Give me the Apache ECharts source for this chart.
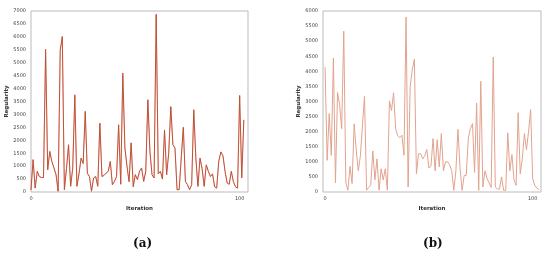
<!DOCTYPE html>
<html>
<head>
<meta charset="utf-8">
<script src="https://cdn.jsdelivr.net/npm/echarts@6/dist/echarts.min.js"></script>
<style>
  html, body { margin: 0; padding: 0; background: #fff; }
  #main { width: 550px; height: 257px; }
</style>
</head>
<body>
<div id="main"></div>
<script>
// 左图 (a) - 两条几乎重合的曲线
const regularityA1 = [80, 1250, 150, 800, 600, 560, 560, 5520, 860, 1570,
    1180, 930, 670, 30, 5490, 6010, 90, 900, 1830, 220,
    930, 3760, 220, 700, 1310, 1100, 3115, 730, 600, 30,
    540, 600, 220, 2660, 600, 640, 730, 800, 1180, 280,
    410, 600, 2600, 300, 4600, 1700, 1000, 400, 1900, 200,
    670, 480, 800, 930, 410, 800, 3565, 1570, 670, 540,
    6870, 700, 800, 500, 2400, 670, 1500, 3300, 1830, 1700,
    90, 90, 1310, 2500, 410, 280, 90, 280, 3180, 1310,
    220, 1310, 900, 220, 1050, 800, 600, 700, 200, 150,
    1200, 1550, 1400, 800, 350, 300, 800, 400, 200, 150,
    3730, 550, 2790];
const regularityA2 = [80, 1250, 150, 800, 600, 560, 560, 5400, 860, 1570,
    1180, 930, 670, 30, 5450, 6010, 90, 900, 1800, 220,
    930, 3700, 220, 700, 1310, 1100, 3115, 730, 600, 30,
    540, 600, 220, 2660, 600, 640, 730, 800, 1180, 280,
    410, 600, 2600, 300, 4500, 1700, 1000, 400, 1900, 200,
    670, 480, 800, 930, 410, 800, 3565, 1570, 670, 540,
    6870, 700, 800, 500, 2400, 670, 1500, 3300, 1830, 1700,
    90, 90, 1310, 2500, 410, 280, 90, 280, 3180, 1310,
    220, 1310, 900, 220, 1050, 800, 600, 700, 200, 150,
    1200, 1550, 1400, 800, 350, 300, 800, 400, 200, 150,
    3730, 550, 2790];

// 右图 (b)
const regularityB = [4140, 1050, 2600, 1215, 4440, 300, 3300, 2900, 2100, 5330,
    300, 60, 850, 280, 2260, 1400, 700, 1200, 2200, 3170,
    60, 150, 220, 1360, 400, 1100, 60, 770, 400, 770,
    60, 3020, 2700, 3290, 2100, 1860, 1800, 1880, 1215, 5800,
    165, 3500, 4055, 4400, 600, 1270, 1270, 1100, 1200, 1410,
    800, 850, 1770, 700, 1735, 830, 1935, 700, 1000, 1000,
    900, 700, 55, 700, 2080, 800, 55, 550, 550, 1790,
    2100, 2265, 650, 2950, 55, 3670, 165, 700, 450, 300,
    150, 4475, 165, 100, 100, 500, 55, 55, 1960, 700,
    1240, 400, 220, 2630, 600, 1100, 1935, 1400, 2000, 2730,
    440, 220, 130, 77];

const xTickLabels = [0, 100];

function toPoints(vals) {
    return vals.map((v, i) => [i, v]);
}

const labelFont = { fontFamily: 'DejaVu Sans', fontSize: 5, color: '#444' };
const nameFont = { fontFamily: 'DejaVu Sans', fontSize: 5.5, fontWeight: 'bold', color: '#333' };

function xAxisFor(gridIndex, min) {
    return {
        gridIndex: gridIndex,
        type: 'value',
        min: min,
        max: 104,
        name: 'Iteration',
        nameLocation: 'middle',
        nameGap: 6,
        nameTextStyle: nameFont,
        axisLine: { show: false },
        axisTick: { show: false },
        splitLine: { show: false },
        axisLabel: Object.assign({ customValues: xTickLabels, margin: 4 }, labelFont)
    };
}

function yAxisFor(gridIndex, max) {
    return {
        gridIndex: gridIndex,
        type: 'value',
        min: 0,
        max: max,
        interval: 500,
        name: 'Regularity',
        nameLocation: 'middle',
        nameGap: 19,
        nameTextStyle: nameFont,
        axisLine: { show: false },
        axisTick: { show: false },
        splitLine: { show: false },
        axisLabel: Object.assign({ margin: 5, formatter: v => String(v) }, labelFont)
    };
}

function initChart() {
    const chart = echarts.init(document.getElementById('main'), null, { renderer: 'canvas' });
    chart.setOption({
        animation: false,
        backgroundColor: '#fff',
        title: [
            { text: '(a)', left: 128, top: 233, textStyle: { fontFamily: 'DejaVu Serif', fontSize: 12, fontWeight: 'bold', color: '#111' } },
            { text: '(b)', left: 418, top: 233, textStyle: { fontFamily: 'DejaVu Serif', fontSize: 12, fontWeight: 'bold', color: '#111' } }
        ],
        grid: [
            { left: 31, right: 302, top: 11, bottom: 65, show: true, borderColor: '#bbb', borderWidth: 1 },
            { left: 323, right: 9, top: 11, bottom: 65, show: true, borderColor: '#bbb', borderWidth: 1 }
        ],
        xAxis: [xAxisFor(0, 0), xAxisFor(1, -1)],
        yAxis: [yAxisFor(0, 7000), yAxisFor(1, 6000)],
        series: [
            {
                type: 'line', xAxisIndex: 0, yAxisIndex: 0,
                data: toPoints(regularityA1),
                symbol: 'none',
                lineStyle: { color: '#e2453c', width: 1 }
            },
            {
                type: 'line', xAxisIndex: 0, yAxisIndex: 0,
                data: toPoints(regularityA2),
                symbol: 'none',
                lineStyle: { color: '#7f7030', width: 0.6, opacity: 0.55 }
            },
            {
                type: 'line', xAxisIndex: 1, yAxisIndex: 1,
                data: toPoints(regularityB),
                symbol: 'none',
                lineStyle: { color: '#e2a38e', width: 1 }
            }
        ]
    });
}

document.addEventListener('DOMContentLoaded', initChart);
</script>
</body>
</html>
